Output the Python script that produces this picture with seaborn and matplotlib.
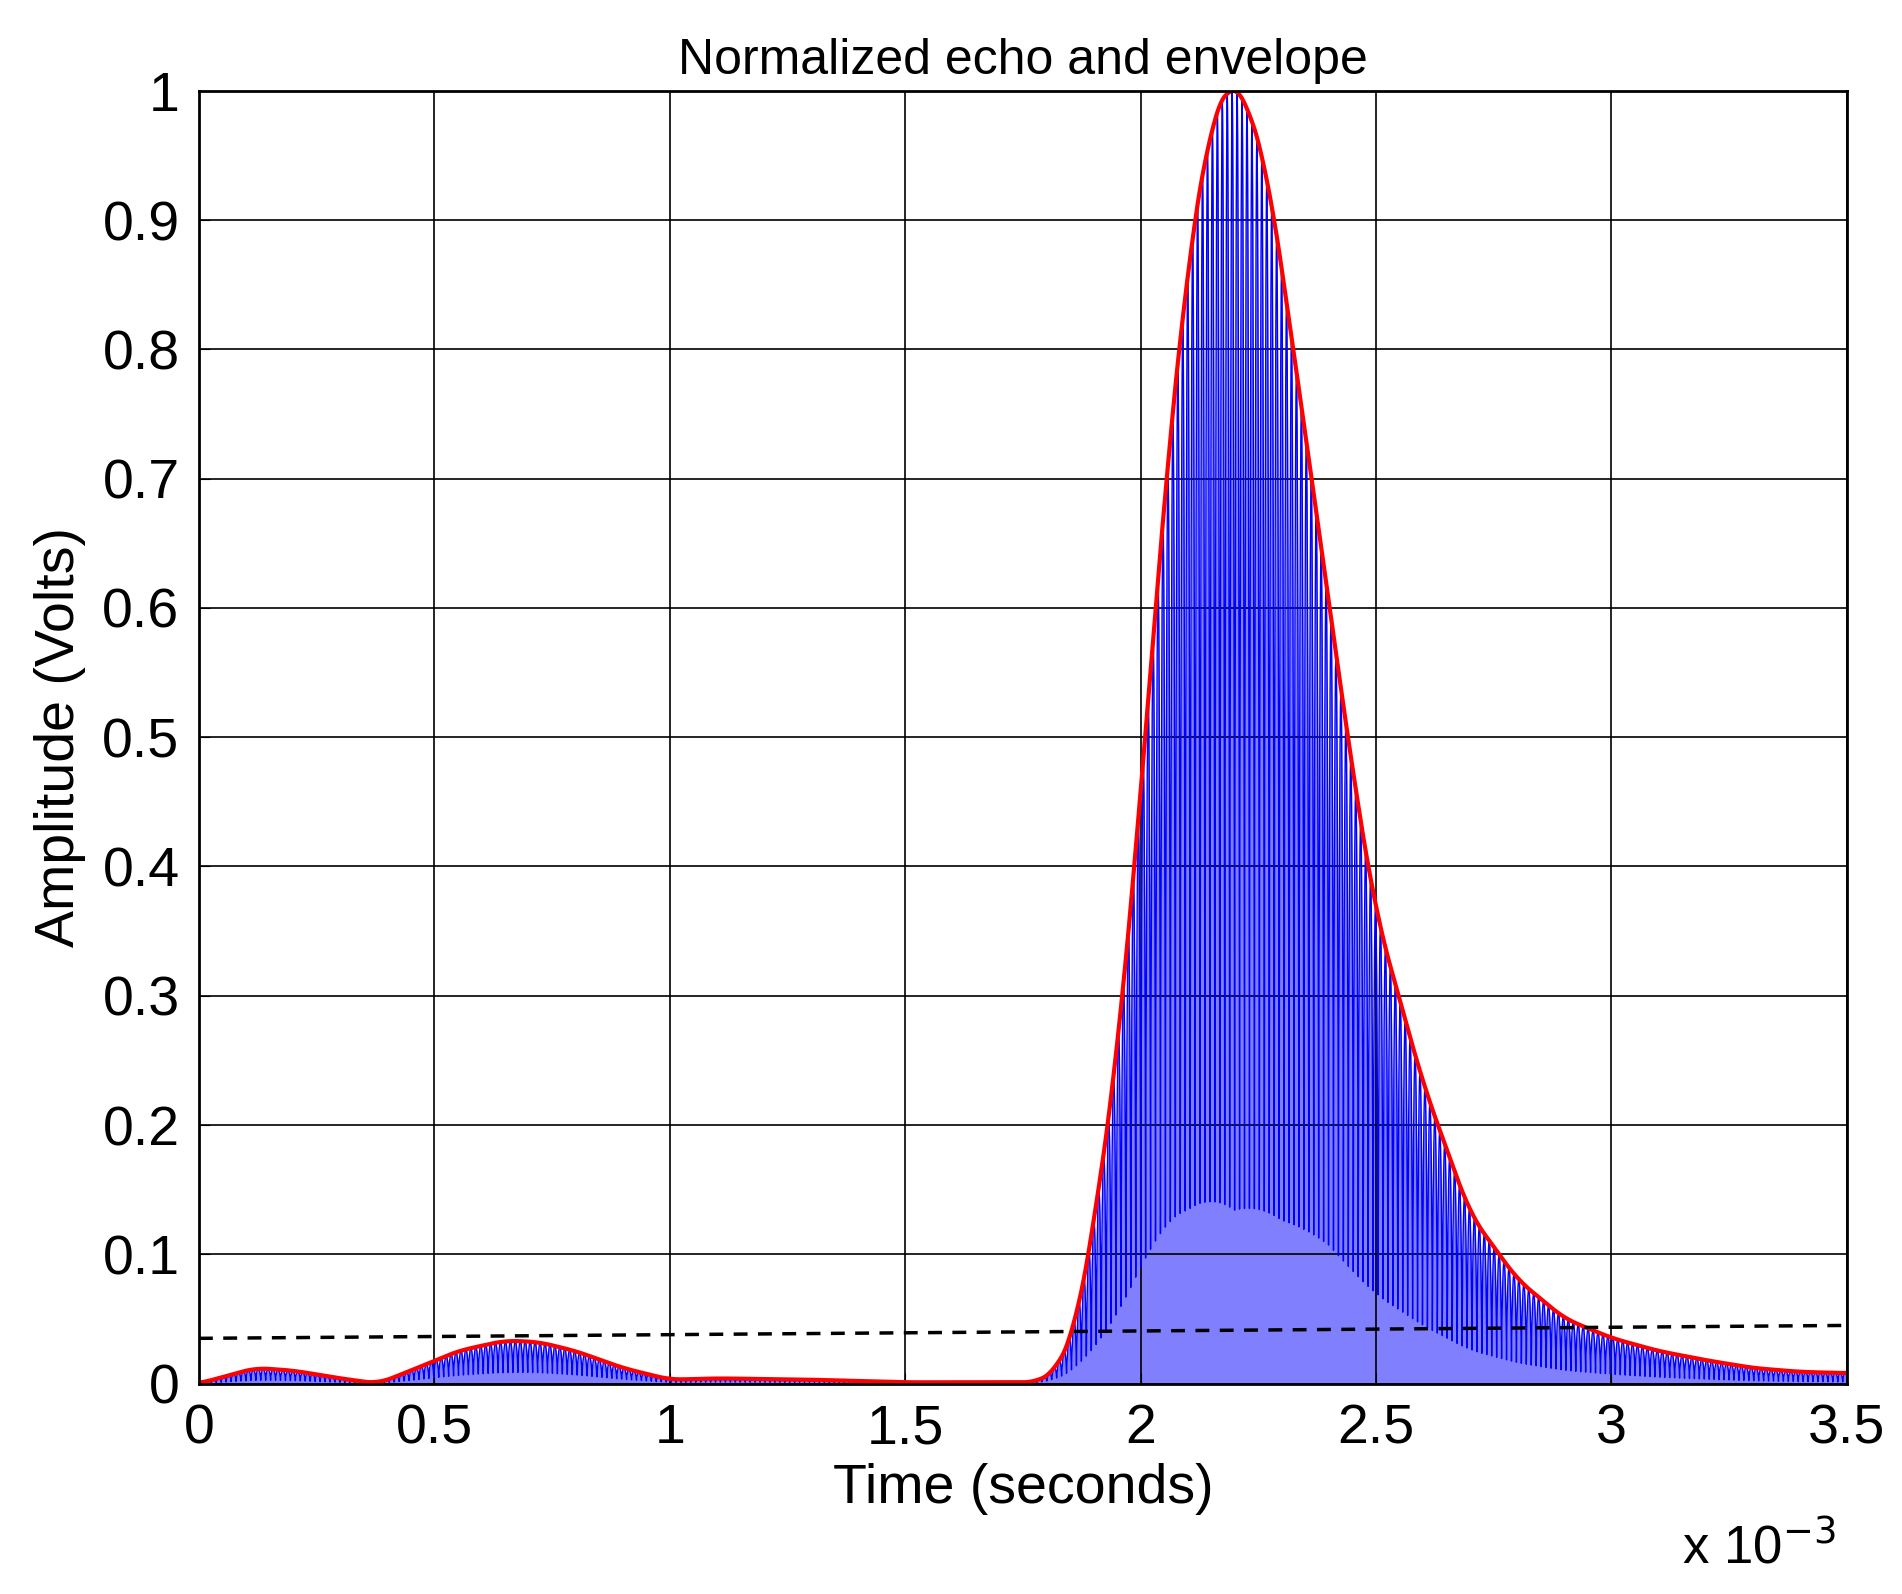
import numpy as np
import matplotlib
matplotlib.use("Agg")
import matplotlib.pyplot as plt
import seaborn as sns
import pandas as pd

# envelope knots (time in ms, normalized amplitude)
env_t = [0, 0.05, 0.12, 0.2, 0.3, 0.38, 0.45, 0.55, 0.65, 0.72, 0.8, 0.9, 1.0, 1.1, 1.3, 1.5, 1.6, 1.78,
         1.82, 1.86, 1.9, 1.95, 2.0, 2.05, 2.1, 2.15, 2.19, 2.22, 2.27, 2.33, 2.4, 2.45, 2.5, 2.6, 2.7,
         2.8, 2.9, 3.0, 3.1, 3.2, 3.3, 3.4, 3.5]
env_v = [0.0, 0.005, 0.012, 0.01, 0.004, 0.0, 0.01, 0.025, 0.033, 0.032, 0.025, 0.012, 0.003, 0.004,
         0.003, 0.001, 0.001, 0.001, 0.01, 0.04, 0.12, 0.25, 0.45, 0.68, 0.86, 0.97, 1.0, 0.99, 0.93,
         0.78, 0.6, 0.47, 0.36, 0.23, 0.13, 0.08, 0.05, 0.035, 0.025, 0.018, 0.012, 0.009, 0.008]
# echo trough depth relative to envelope
trough_t = [0, 1.8, 1.9, 2.0, 2.1, 2.2, 2.3, 2.4, 2.5, 2.7, 3.0, 3.5]
trough_f = [0.2, 0.2, 0.1, 0.08, 0.04, 0.02, 0.04, 0.08, 0.1, 0.12, 0.15, 0.15]
carrier_period_ms = 0.0105
thresh_t = [0.0, 3.5]
thresh_v = [0.035, 0.045]

t = np.linspace(0, 3.5, 14000)
env = np.interp(t, env_t, env_v)
k = np.ones(241) / 241
env = np.convolve(np.pad(env, 120, mode="edge"), k, mode="valid")
env = env / env.max()
tf = np.interp(t, trough_t, trough_f)
mod = np.abs(np.cos(np.pi * t / carrier_period_ms)) ** 0.6
echo = env * (tf + (1 - tf) * mod)
df = pd.DataFrame({"t": t * 1e-3, "env": env, "echo": echo})

plt.rcParams["font.family"] = "Liberation Sans"
fig = plt.figure(figsize=(19.02, 15.94), dpi=100)
ax = fig.add_axes([0.1046, 0.132, 0.8664, 0.811])
ax.fill_between(df.t, 0, df.echo, color="#8080ff", lw=0)
sns.lineplot(data=df, x="t", y="echo", ax=ax, color="#0000ff", lw=1.0)
sns.lineplot(data=df, x="t", y="env", ax=ax, color="red", lw=3)
ax.plot(np.array(thresh_t) * 1e-3, thresh_v, "k--", lw=2.5, dashes=(4, 3))

ax.set_xlim(0, 3.5e-3)
ax.set_ylim(0, 1)
xt = [0, 0.5, 1, 1.5, 2, 2.5, 3, 3.5]
ax.set_xticks([v * 1e-3 for v in xt])
ax.set_xticklabels(["0", "0.5", "1", "1.5", "2", "2.5", "3", "3.5"])
yt = np.round(np.arange(0, 1.01, 0.1), 1)
ax.set_yticks(yt)
ax.set_yticklabels(["0"] + [f"{v:g}" for v in yt[1:]])
ax.tick_params(labelsize=40, direction="in", length=8, pad=14)
ax.grid(True, color="black", lw=1.2)
for s in ax.spines.values():
    s.set_linewidth(2)
ax.set_xlabel("Time (seconds)", fontsize=40, labelpad=6)
ax.set_ylabel("Amplitude (Volts)", fontsize=40, labelpad=12)
ax.set_title("Normalized echo and envelope", fontsize=36, pad=12)
fig.text(0.965, 0.012, r"x 10$^{-3}$", fontsize=38, ha="right", va="bottom")
fig.savefig("out.png", dpi=100, facecolor="white")
